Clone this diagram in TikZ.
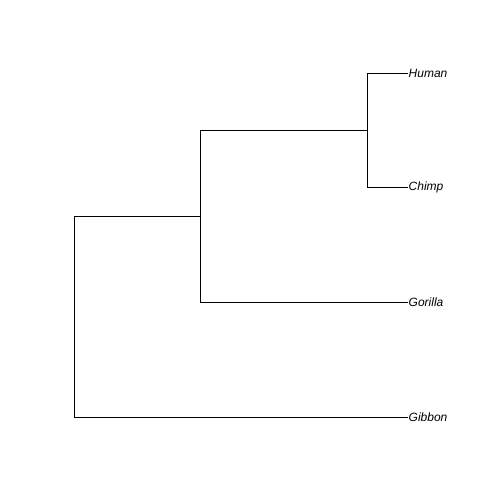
\documentclass[tikz,border=0pt]{standalone}
\usepackage{fontspec}
\setmainfont{Liberation Sans}
\usetikzlibrary{positioning}
\tikzset{branch/.style={draw=black, line width=0.75pt},
taxonnode/.style={anchor=west, inner sep=0.5pt, font=\fontsize{12}{14}\selectfont\itshape}}

\begin{document}
\begin{tikzpicture}[x=1pt, y=-1pt]
        \useasboundingbox (0, 0) rectangle (504, 504);
        % Internal nodes
        \coordinate (root) at (74, 316);
        \coordinate (hgc) at (200, 216);
        \coordinate (hc) at (367, 130);
        % Tips
        \node[taxonnode] (human) at (408, 73) {Human};
        \node[taxonnode] (chimp) at (408, 187.5) {Chimp};
        \node[taxonnode] (gorilla) at (408, 302) {Gorilla};
        \node[taxonnode] (gibbon) at (408, 417) {Gibbon};
        % Branches
        \draw[branch] (root) |- (hgc);
        \draw[branch] (root) |- (gibbon.west);
        \draw[branch] (hgc) |- (hc);
        \draw[branch] (hgc) |- (gorilla.west);
        \draw[branch] (hc) |- (human.west);
        \draw[branch] (hc) |- (chimp.west);
    \end{tikzpicture}
\end{document}
